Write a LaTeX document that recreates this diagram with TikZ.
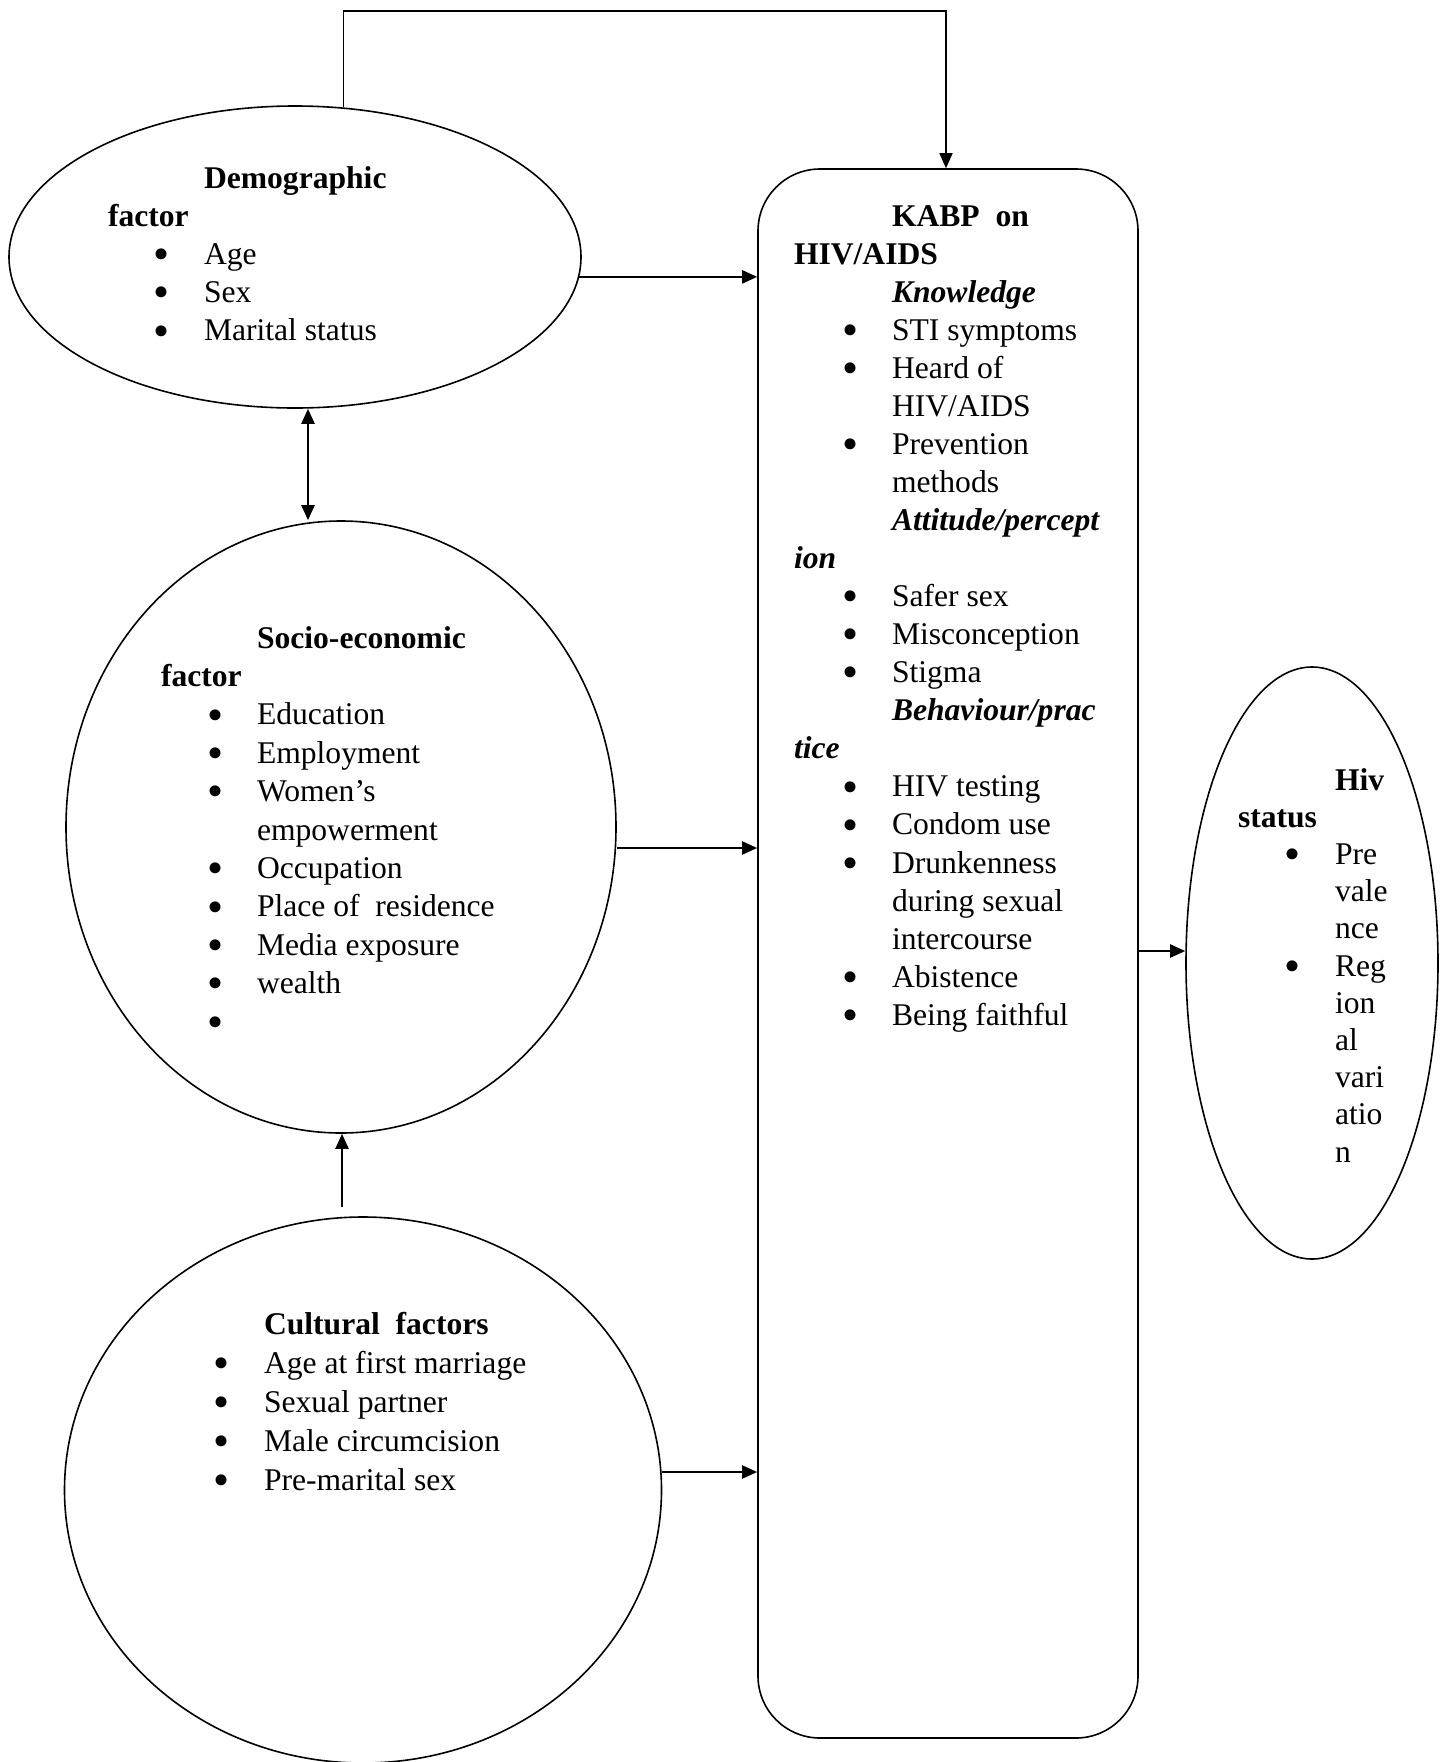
\documentclass[tikz,border=0pt]{standalone}
\usepackage{fontspec}
\setmainfont{Liberation Serif}
\usetikzlibrary{shapes.geometric,arrows.meta}
\newlength\pxu \setlength\pxu{0.5pt}
\newcommand\bdot{\makebox[0pt]{\raisebox{-2.6pt}{\scalebox{1.45}{\textbullet}}}}
\newcommand\itm[3]{\hspace*{#1\pxu}\bdot\hspace*{#2\pxu}#3}
\newcommand\ind[2]{\hspace*{#1\pxu}#2}
\newcommand\txtsize[1]{\fontsize{15.8pt}{#1}\selectfont}
\begin{document}
\begin{tikzpicture}[x=0.5pt,y=-0.5pt,
  shp/.style={draw, line width=0.8pt, inner sep=0pt},
  tip/.style={-{Triangle[length=7.5pt,width=6.5pt]}},
  arr/.style={line width=1.1pt, tip},
  darr/.style={line width=1.1pt, {Triangle[length=7.5pt,width=6.5pt]}-{Triangle[length=7.5pt,width=6.5pt]}},
  txt/.style={anchor=base west, inner sep=0pt, outer sep=0pt}]
\useasboundingbox (0,0) rectangle (1440,1762);
% shapes
\node[shp, ellipse, minimum width=286pt, minimum height=151pt] (demo) at (295,257) {};
\node[shp, ellipse, minimum width=275pt, minimum height=306pt] (socio) at (341,827) {};
\node[shp, ellipse, minimum width=298.5pt, minimum height=273pt] (cult) at (363,1490) {};
\node[shp, rectangle, rounded corners=31pt, minimum width=190pt, minimum height=784.5pt] (kabp) at (948,953.5) {};
\node[shp, ellipse, minimum width=126pt, minimum height=296pt] (hiv) at (1312,963) {};
% texts
\node[txt] (demotxt) at (108,188) {\parbox[t]{250pt}{\txtsize{19.1pt}\raggedright
\ind{96}{\textbf{Demographic}}\\
\textbf{factor}\\
\itm{54}{42}{Age}\\
\itm{54}{42}{Sex}\\
\itm{54}{42}{Marital status}}};
\node[txt] (sociotxt) at (161,648) {\parbox[t]{250pt}{\txtsize{19.2pt}\raggedright
\ind{96}{\textbf{Socio-economic}}\\
\textbf{factor}\\
\itm{55}{41}{Education}\\
\itm{55}{41}{Employment}\\
\itm{55}{41}{Women’s}\\
\ind{96}{empowerment}\\
\itm{55}{41}{Occupation}\\
\itm{55}{41}{Place of~~residence}\\
\itm{55}{41}{Media exposure}\\
\itm{55}{41}{wealth}\\
\itm{55}{41}{}}};
\node[txt] (culttxt) at (222,1334) {\parbox[t]{250pt}{\txtsize{19.5pt}\raggedright
\ind{42}{\textbf{Cultural~~factors}}\\
\itm{0}{42}{Age at first marriage}\\
\itm{0}{42}{Sexual partner}\\
\itm{0}{42}{Male circumcision}\\
\itm{0}{42}{Pre-marital sex}}};
\node[txt] (kabptxt) at (794,226) {\parbox[t]{180pt}{\txtsize{19.03pt}\raggedright
\ind{98}{\textbf{KABP~~on}}\\
\textbf{HIV/AIDS}\\
\ind{98}{\textbf{\textit{Knowledge}}}\\
\itm{57}{41}{STI symptoms}\\
\itm{57}{41}{Heard of}\\
\ind{98}{HIV/AIDS}\\
\itm{57}{41}{Prevention}\\
\ind{98}{methods}\\
\ind{98}{\textbf{\textit{Attitude/percept}}}\\
\textbf{\textit{ion}}\\
\itm{57}{41}{Safer sex}\\
\itm{57}{41}{Misconception}\\
\itm{57}{41}{Stigma}\\
\ind{98}{\textbf{\textit{Behaviour/prac}}}\\
\textbf{\textit{tice}}\\
\itm{57}{41}{HIV testing}\\
\itm{57}{41}{Condom use}\\
\itm{57}{41}{Drunkenness}\\
\ind{98}{during sexual}\\
\ind{98}{intercourse}\\
\itm{57}{41}{Abistence}\\
\itm{57}{41}{Being faithful}}};
\node[txt] (hivtxt) at (1238,790) {\parbox[t]{90pt}{\txtsize{18.6pt}\raggedright
\ind{97}{\textbf{Hiv}}\\
\textbf{status}\\
\itm{55}{42}{Pre}\\
\ind{97}{vale}\\
\ind{97}{nce}\\
\itm{55}{42}{Reg}\\
\ind{97}{ion}\\
\ind{97}{al}\\
\ind{97}{vari}\\
\ind{97}{atio}\\
\ind{97}{n}}};
% connectors
\coordinate (tc) at (946,11);
\draw[line width=0.8pt, tip] (demo.72.5) |- (tc) -- (tc |- kabp.north);
\draw[arr] (demo.-4.45) -- (demo.-4.45 -| kabp.west);
\draw[darr] (demo.south -| 308,0) -- (socio.north -| 308,0);
\draw[arr] (socio.east |- 0,848) -- (kabp.west |- 0,848);
\draw[arr] ([yshift=4.5pt]cult.north -| 342,0) -- (socio.south -| 342,0);
\draw[arr] (cult.east |- 0,1472) -- (kabp.west |- 0,1472);
\draw[arr] (kabp.east |- 0,951) -- (hiv.west |- 0,951);
\end{tikzpicture}
\end{document}
